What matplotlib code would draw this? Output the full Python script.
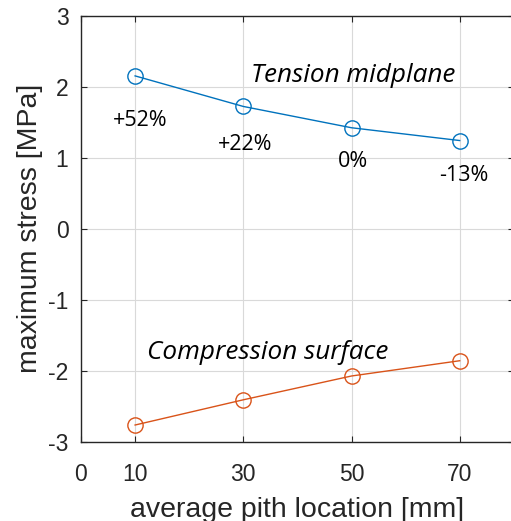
#!/usr/bin/env python3
# coding: utf-8

import matplotlib

matplotlib.use("Agg")
import matplotlib.pyplot as plt

# data
pith = [10, 30, 50, 70]
tension = [2.15, 1.72, 1.42, 1.24]
compression = [-2.765, -2.41, -2.075, -1.86]
tension_pct = ["+52%", "+22%", "0%", "-13%"]
pct_pos = [(10.9, 1.52), (30.3, 1.18), (50.2, 0.94), (70.7, 0.75)]

xticks = [0, 10, 30, 50, 70]
yticks = [-3, -2, -1, 0, 1, 2, 3]

blue = "#0072BD"
orange = "#D95319"
axcol = "#262626"

plt.rcParams["font.family"] = ["Liberation Sans", "DejaVu Sans"]
plt.rcParams["axes.unicode_minus"] = False

fig = plt.figure(figsize=(5.11, 5.21), dpi=100)
ax = fig.add_axes([0.1585, 0.1522, 0.847, 0.818])

ax.plot(pith, tension, "-o", color=blue, lw=1.0, ms=11, mfc="none", mew=1.0)
ax.plot(pith, compression, "-o", color=orange, lw=1.0, ms=11, mfc="none", mew=1.0)

ax.set_xlim(0, 80)
ax.set_ylim(-3, 3)
ax.set_xticks(xticks)
ax.set_yticks(yticks)
ax.grid(True, color="#d9d9d9", lw=0.8)
ax.set_axisbelow(True)
ax.tick_params(direction="in", length=4, width=0.8, colors=axcol,
               labelsize=16.5, top=True, right=True)
ax.tick_params(axis="x", pad=15)
ax.tick_params(axis="y", pad=9)
for s in ax.spines.values():
    s.set_color(axcol)
    s.set_linewidth(1.0)

ax.set_xlabel("average pith location [mm]", fontsize=20.5, color=axcol, labelpad=8)
ax.set_ylabel("maximum stress [MPa]", fontsize=20.5, color=axcol, labelpad=4)

txt = dict(family=["Open Sans", "DejaVu Sans"], color="black")
ax.text(31.5, 2.16, "Tension midplane", style="italic", fontsize=18.8,
        va="center", ha="left", **txt)
ax.text(12.2, -1.74, "Compression surface", style="italic", fontsize=18.8,
        va="center", ha="left", **txt)
for lab, (px, py) in zip(tension_pct, pct_pos):
    ax.text(px, py, lab, fontsize=15.5, ha="center", va="center", **txt)

plt.savefig("out.png", dpi=100)
